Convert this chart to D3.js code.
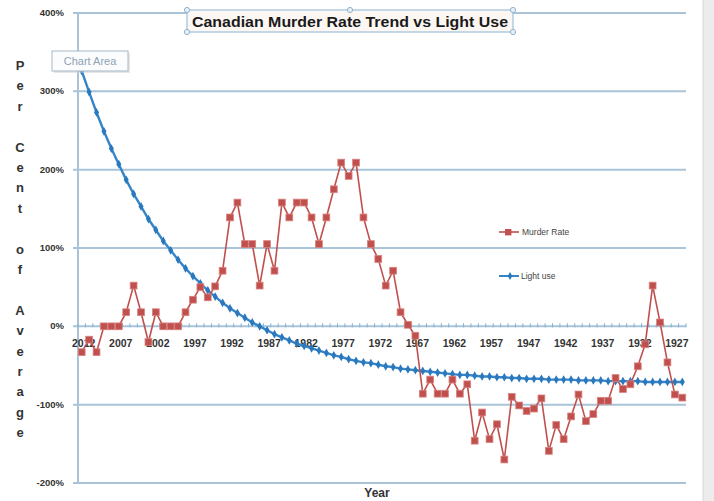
<!DOCTYPE html>
<html>
<head>
    <script src="https://d3js.org/d3.v7.min.js"></script>
    <style>
        body { margin: 0; background: #fff; }
        svg { font-family: "Liberation Sans", Arial, sans-serif; }
        .grid line { stroke: #a9c4d9; stroke-width: 2px; }
        .ytick { font-size: 9.5px; font-weight: bold; fill: #333; text-anchor: end; }
        .xtick { font-size: 10.5px; font-weight: bold; fill: #333; text-anchor: middle; }
        .legend text { font-size: 8.5px; fill: #444; }
    </style>
</head>
<body>
    <svg width="714" height="501"></svg>
    <script>
        // categories (year, newest first); the picture skips 1952-1948
        var years = [2012, 2011, 2010, 2009, 2008, 2007, 2006, 2005, 2004, 2003,
                     2002, 2001, 2000, 1999, 1998, 1997, 1996, 1995, 1994, 1993,
                     1992, 1991, 1990, 1989, 1988, 1987, 1986, 1985, 1984, 1983,
                     1982, 1981, 1980, 1979, 1978, 1977, 1976, 1975, 1974, 1973,
                     1972, 1971, 1970, 1969, 1968, 1967, 1966, 1965, 1964, 1963,
                     1962, 1961, 1960, 1959, 1958, 1957, 1956, 1955, 1954, 1953,
                     1947, 1946, 1945, 1944, 1943, 1942, 1941, 1940, 1939, 1938,
                     1937, 1936, 1935, 1934, 1933, 1932, 1931, 1930, 1929, 1928,
                     1927, 1926];

        // per cent of average
        var murderRate = [-33, -17, -33, 0, 0, 0, 18, 52, 18, -20,
                          18, 0, 0, 0, 18, 34, 50, 37, 51, 71,
                          139, 158, 105, 105, 52, 105, 71, 158, 139, 158,
                          158, 139, 105, 139, 175, 209, 192, 209, 139, 105,
                          86, 52, 71, 18, 2, -12, -86, -68, -86, -86,
                          -68, -86, -74, -146, -110, -144, -125, -170, -90, -101,
                          -108, -105, -92, -159, -126, -144, -115, -87, -121, -112,
                          -95, -95, -66, -80, -74, -51, -23, 52, 5, -46,
                          -87, -91];

        var lightUse = [326, 299, 273, 249, 227, 207, 187, 169, 153, 137,
                        123, 109, 97, 85, 74, 64, 55, 46, 38, 30,
                        23, 17, 11, 5, 0, -5, -10, -14, -18, -22,
                        -25, -28, -31, -34, -37, -39, -42, -44, -46, -47,
                        -49, -51, -52, -54, -55, -56, -57, -58, -59, -60,
                        -61, -62, -62, -63, -64, -64, -65, -65, -66, -66,
                        -67, -67, -67, -68, -68, -68, -68, -69, -69, -69,
                        -69, -70, -70, -70, -70, -70, -71, -71, -71, -71,
                        -71, -71];

        var yTicks = [-200, -100, 0, 100, 200, 300, 400];
        var xLabelYears = [2012, 2007, 2002, 1997, 1992, 1987, 1982, 1977, 1972,
                           1967, 1962, 1957, 1947, 1942, 1937, 1932, 1927];
        var yTitle = ["P", "e", "r", "", "C", "e", "n", "t", "", "o", "f", "",
                      "A", "v", "e", "r", "a", "g", "e"];

        var svg = d3.select("svg");
        var plotL = 78, plotR = 686, plotT = 13, plotB = 483;

        var x = d3.scaleBand().domain(years).range([plotL, plotR]);
        var y = d3.scaleLinear().domain([-200, 400]).range([plotB, plotT]);
        var cx = function(yr) { return x(yr) + x.bandwidth() / 2; };

        // right edge panel
        svg.append("rect").attr("x", 703).attr("y", 0).attr("width", 11).attr("height", 501).attr("fill", "#ececec");
        svg.append("line").attr("x1", 703).attr("x2", 703).attr("y1", 0).attr("y2", 501).attr("stroke", "#d6d6d6");

        // gridlines
        svg.append("g").attr("class", "grid")
            .selectAll("line").data(yTicks).enter().append("line")
            .attr("x1", plotL - 5).attr("x2", plotR)
            .attr("y1", function(d) { return y(d); })
            .attr("y2", function(d) { return y(d); });

        svg.append("line").attr("x1", plotL).attr("x2", plotL)
            .attr("y1", plotT).attr("y2", plotB)
            .attr("stroke", "#a9c4d9").attr("stroke-width", 2);

        // category tick marks on the 0% axis
        svg.append("g").selectAll("line").data(d3.range(years.length + 1)).enter().append("line")
            .attr("x1", function(i) { return plotL + i * x.step(); })
            .attr("x2", function(i) { return plotL + i * x.step(); })
            .attr("y1", y(0) - 3).attr("y2", y(0) + 1)
            .attr("stroke", "#7fb0d6").attr("stroke-width", 1);

        svg.append("g").selectAll("text").data(yTicks).enter().append("text")
            .attr("class", "ytick")
            .attr("x", 64)
            .attr("y", function(d) { return y(d) + 3; })
            .text(function(d) { return d + "%"; });

        svg.append("g").selectAll("text").data(xLabelYears).enter().append("text")
            .attr("class", "xtick")
            .attr("x", function(d) { return cx(d) + 2; })
            .attr("y", y(0) + 21)
            .text(function(d) { return d; });

        // light use
        var lightPts = years.map(function(d, i) { return [cx(d), y(lightUse[i])]; });
        svg.append("path").attr("d", d3.line()(lightPts))
            .attr("fill", "none").attr("stroke", "#3585c8").attr("stroke-width", 2.4);
        svg.append("g").selectAll("path").data(lightPts).enter().append("path")
            .attr("d", d3.symbol().type(d3.symbolDiamond).size(22))
            .attr("transform", function(d) { return "translate(" + d[0] + "," + d[1] + ")"; })
            .attr("fill", "#2a78bd");

        // murder rate
        var murderPts = years.map(function(d, i) { return [cx(d), y(murderRate[i])]; });
        svg.append("path").attr("d", d3.line()(murderPts))
            .attr("fill", "none").attr("stroke", "#c0504d").attr("stroke-width", 1.6);
        svg.append("g").selectAll("rect").data(murderPts).enter().append("rect")
            .attr("x", function(d) { return d[0] - 3.4; })
            .attr("y", function(d) { return d[1] - 3.4; })
            .attr("width", 6.8).attr("height", 6.8)
            .attr("fill", "#c0504d").attr("stroke", "#d9827f").attr("stroke-width", 0.8);

        // legend
        var lg = svg.append("g").attr("class", "legend");
        lg.append("line").attr("x1", 499).attr("x2", 519).attr("y1", 232).attr("y2", 232)
            .attr("stroke", "#c0504d").attr("stroke-width", 1.6);
        lg.append("rect").attr("x", 505).attr("y", 229).attr("width", 6.4).attr("height", 6.4)
            .attr("fill", "#c0504d");
        lg.append("text").attr("x", 522).attr("y", 235).text("Murder Rate");
        lg.append("line").attr("x1", 499).attr("x2", 519).attr("y1", 276).attr("y2", 276)
            .attr("stroke", "#3585c8").attr("stroke-width", 2);
        lg.append("path").attr("d", d3.symbol().type(d3.symbolDiamond).size(18))
            .attr("transform", "translate(510,276)").attr("fill", "#2a78bd");
        lg.append("text").attr("x", 521).attr("y", 279).text("Light use");

        // title box
        svg.append("rect").attr("x", 187).attr("y", 10).attr("width", 326).attr("height", 22)
            .attr("fill", "#fdf7f4").attr("stroke", "#9fbfd8").attr("stroke-width", 1.2);
        [[187, 10], [350, 10], [513, 10], [187, 32], [513, 32]].forEach(function(p) {
            svg.append("circle").attr("cx", p[0]).attr("cy", p[1]).attr("r", 2.6)
                .attr("fill", "#e8f1f8").attr("stroke", "#8fb3d0");
        });
        svg.append("text").attr("x", 350).attr("y", 27)
            .attr("text-anchor", "middle")
            .attr("font-size", "15px").attr("font-weight", "bold").attr("fill", "#1a1a1a")
            .attr("textLength", 316).attr("lengthAdjust", "spacingAndGlyphs")
            .text("Canadian Murder Rate Trend vs Light Use");

        // "Chart Area" tooltip
        svg.append("rect").attr("x", 54).attr("y", 53).attr("width", 76).attr("height", 20)
            .attr("fill", "#d0d0d0").attr("opacity", 0.5);
        svg.append("rect").attr("x", 52).attr("y", 51).attr("width", 76).attr("height", 20)
            .attr("fill", "#fafcfd").attr("stroke", "#a8b8c6").attr("stroke-width", 1);
        svg.append("text").attr("x", 90).attr("y", 65).attr("text-anchor", "middle")
            .attr("font-size", "11px").attr("fill", "#8fa2b2").text("Chart Area");

        // axis titles
        svg.append("g").selectAll("text").data(yTitle).enter().append("text")
            .attr("x", 20)
            .attr("y", function(d, i) { return 70 + i * 20.4; })
            .attr("text-anchor", "middle")
            .attr("font-size", "13px").attr("font-weight", "bold").attr("fill", "#333")
            .text(function(d) { return d; });

        svg.append("text").attr("x", 377).attr("y", 497).attr("text-anchor", "middle")
            .attr("font-size", "12px").attr("font-weight", "bold").attr("fill", "#333")
            .text("Year");
    </script>
</body>
</html>
